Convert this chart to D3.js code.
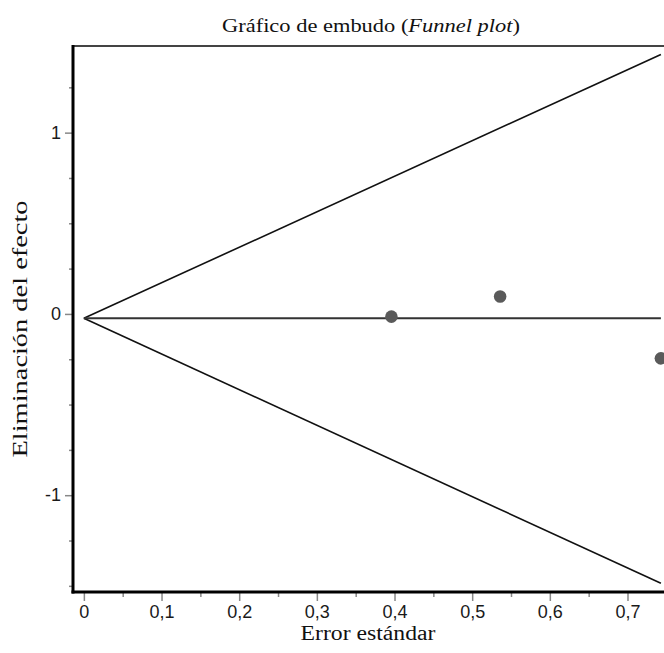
<!DOCTYPE html>
<html>
<head>
    <meta charset="utf-8">
    <script src="https://d3js.org/d3.v7.min.js"></script>
    <style>
        body { margin: 0; background: #fff; }
        .tick text { font-family: "Liberation Sans", Arial, sans-serif; }
    </style>
</head>
<body>
    <svg id="funnel" width="664" height="653"></svg>

    <script>
        // Data
        const studySE = [0.396, 0.536, 0.743];        // error estándar
        const studyEffect = [-0.015, 0.096, -0.245];  // eliminación del efecto
        const pooledEffect = -0.024;
        const lineEndSE = 0.743;
        const upperLimit = [[0, -0.024], [0.743, 1.431]];
        const lowerLimit = [[0, -0.024], [0.743, -1.486]];
        const xTicks = [0, 0.1, 0.2, 0.3, 0.4, 0.5, 0.6, 0.7];
        const xTickLabels = ["0", "0,1", "0,2", "0,3", "0,4", "0,5", "0,6", "0,7"];
        const xMinorTicks = [0.05, 0.15, 0.25, 0.35, 0.45, 0.55, 0.65];
        const yTicks = [-1, 0, 1];
        const yTickLabels = ["-1", "0", "1"];
        const yMinorTicks = [-1.5, -1.25, -0.75, -0.5, -0.25, 0.25, 0.5, 0.75, 1.25];

        const svg = d3.select("svg"),
            width = +svg.attr("width"),
            height = +svg.attr("height");

        // plot frame (the picture is cut off on the right)
        const frameLeft = 73, frameTop = 46, frameRight = 664, frameBottom = 592;

        const x = d3.scaleLinear().domain([-0.014, 0.747]).range([frameLeft, frameRight]);
        const y = d3.scaleLinear().domain([-1.534, 1.478]).range([frameBottom, frameTop]);

        // title (the original serif is wider than Liberation Serif, so stretch it a bit)
        const title = svg.append("text")
            .attr("x", 371)
            .attr("y", 32)
            .attr("text-anchor", "middle")
            .attr("font-family", "Liberation Serif, serif")
            .attr("font-size", "19px")
            .attr("fill", "#111")
            .attr("textLength", 298)
            .attr("lengthAdjust", "spacingAndGlyphs");
        title.append("tspan").text("Gráfico de embudo (");
        title.append("tspan").attr("font-style", "italic").text("Funnel plot");
        title.append("tspan").text(")");

        // axes
        svg.append("g")
            .attr("transform", `translate(0,${frameBottom})`)
            .call(d3.axisBottom(x).tickValues(xTicks).tickSize(9).tickPadding(4)
                .tickFormat((d, i) => xTickLabels[i]));
        svg.append("g")
            .attr("transform", `translate(0,${frameBottom})`)
            .call(d3.axisBottom(x).tickValues(xMinorTicks).tickSize(5).tickFormat(""));

        svg.append("g")
            .attr("transform", `translate(${frameLeft},0)`)
            .call(d3.axisLeft(y).tickValues(yTicks).tickSize(8).tickPadding(4)
                .tickFormat((d, i) => yTickLabels[i]));
        svg.append("g")
            .attr("transform", `translate(${frameLeft},0)`)
            .call(d3.axisLeft(y).tickValues(yMinorTicks).tickSize(4).tickFormat(""));

        svg.selectAll(".domain").remove();
        svg.selectAll(".tick line").attr("stroke", "#888").attr("stroke-width", 1.5);
        svg.selectAll(".tick text").attr("font-size", "18px").attr("fill", "#1a1a1a");

        // frame
        svg.append("line")
            .attr("x1", frameLeft).attr("x2", frameRight).attr("y1", frameTop).attr("y2", frameTop)
            .attr("stroke", "#444").attr("stroke-width", 2);
        svg.append("line")
            .attr("x1", frameLeft).attr("x2", frameLeft).attr("y1", frameTop - 1).attr("y2", frameBottom + 1.5)
            .attr("stroke", "#000").attr("stroke-width", 3);
        svg.append("line")
            .attr("x1", frameLeft - 1.5).attr("x2", frameRight).attr("y1", frameBottom).attr("y2", frameBottom)
            .attr("stroke", "#000").attr("stroke-width", 3);

        // funnel limits and pooled estimate
        const line = d3.line().x(d => x(d[0])).y(d => y(d[1]));
        svg.append("path")
            .datum(upperLimit)
            .attr("d", line)
            .attr("fill", "none").attr("stroke", "#111").attr("stroke-width", 1.6);
        svg.append("path")
            .datum(lowerLimit)
            .attr("d", line)
            .attr("fill", "none").attr("stroke", "#111").attr("stroke-width", 1.6);
        svg.append("line")
            .attr("x1", x(0)).attr("x2", x(lineEndSE))
            .attr("y1", y(pooledEffect)).attr("y2", y(pooledEffect))
            .attr("stroke", "#333").attr("stroke-width", 2);

        // studies
        svg.append("g")
            .selectAll("circle")
            .data(studySE)
            .join("circle")
            .attr("cx", d => x(d))
            .attr("cy", (d, i) => y(studyEffect[i]))
            .attr("r", 6.3)
            .attr("fill", "#5a5a5a");

        // axis titles
        svg.append("text")
            .attr("x", 368)
            .attr("y", 640)
            .attr("text-anchor", "middle")
            .attr("font-family", "Liberation Serif, serif")
            .attr("font-size", "20px")
            .attr("fill", "#111")
            .attr("textLength", 135)
            .attr("lengthAdjust", "spacingAndGlyphs")
            .text("Error estándar");

        svg.append("text")
            .attr("transform", "translate(27,329) rotate(-90)")
            .attr("text-anchor", "middle")
            .attr("font-family", "Liberation Serif, serif")
            .attr("font-size", "20px")
            .attr("fill", "#111")
            .attr("textLength", 257)
            .attr("lengthAdjust", "spacingAndGlyphs")
            .text("Eliminación del efecto");
    </script>
</body>
</html>
